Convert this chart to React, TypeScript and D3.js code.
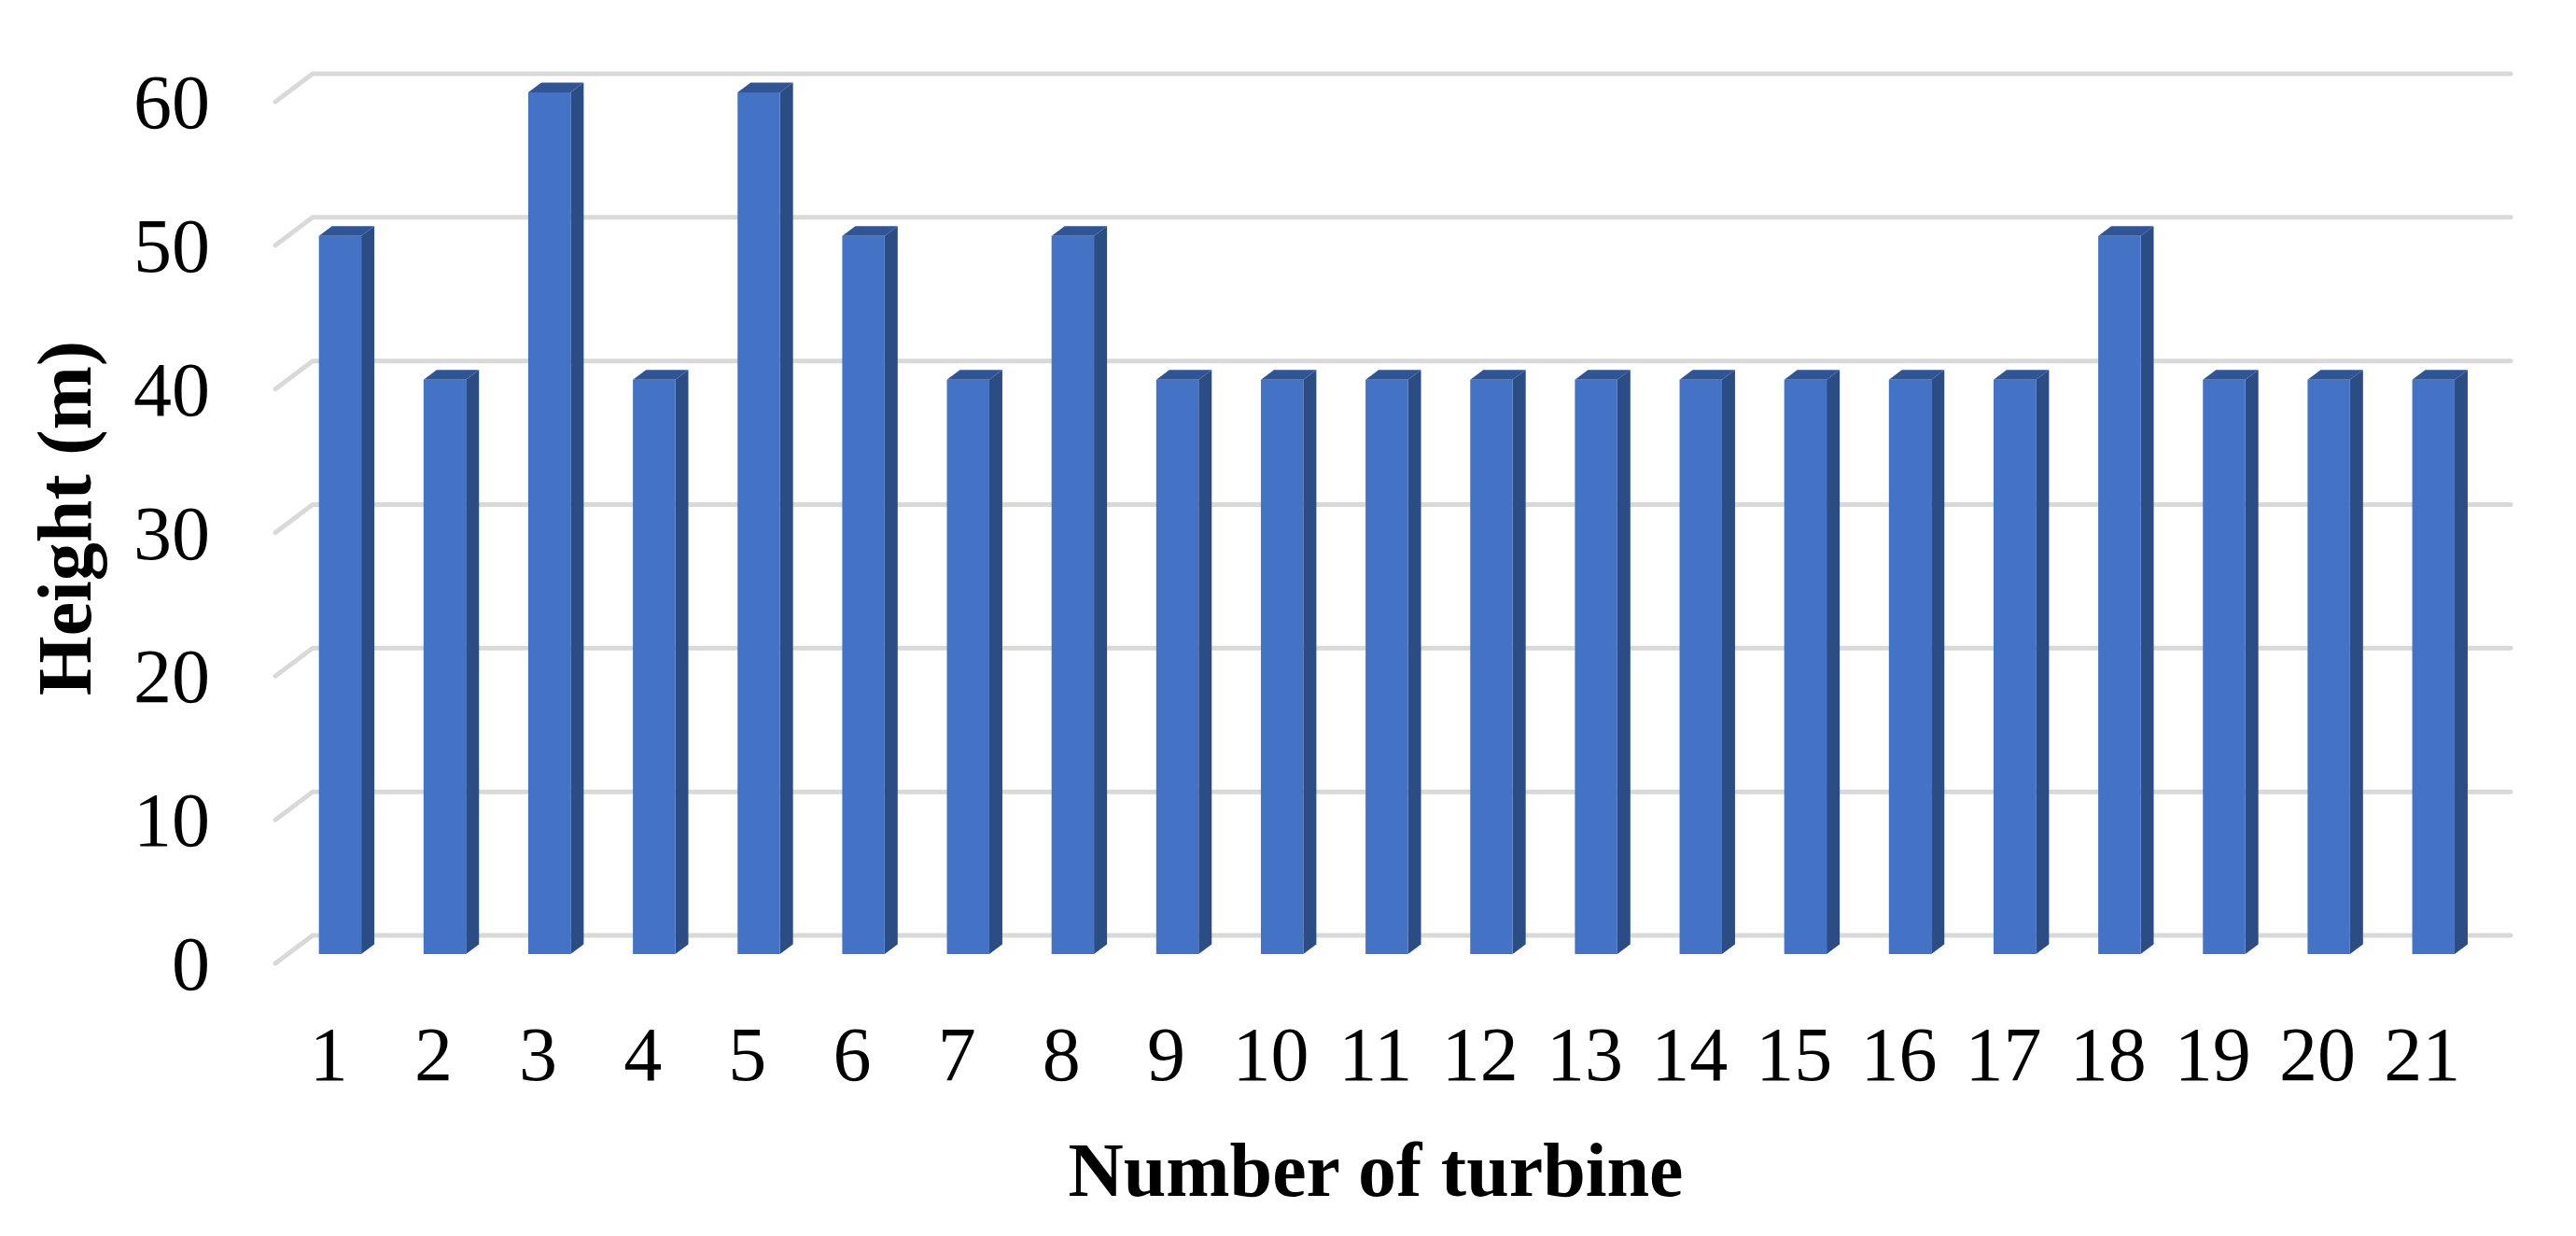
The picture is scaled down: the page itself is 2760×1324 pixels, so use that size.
import React from "react";
import * as d3 from "d3";

const categories = ["1","2","3","4","5","6","7","8","9","10","11","12","13","14","15","16","17","18","19","20","21"];
const heights = [50,40,60,40,60,50,40,50,40,40,40,40,40,40,40,40,40,50,40,40,40];
const yTicks = [0,10,20,30,40,50,60];
const xTitle = "Number of turbine";
const yTitle = "Height (m)";

const W = 2760, H = 1324;
const DX = -40, DY = 30; // depth vector from back wall (d=0) to front (d=1)
const D_FRONT = 0.667, D_BACK = 0.317;
const FONT = "'Liberation Serif', 'Times New Roman', serif";

export default function App() {
  const y = d3.scaleLinear().domain([0, 60]).range([1002, 79]);
  const x = d3.scaleBand<string>().domain(categories).range([335, 2690]);
  const bw = x.bandwidth() * 0.405;

  const p = (px: number, py: number, d: number) => [px + DX * d, py + DY * d];
  const poly = (pts: number[][]) => pts.map(q => q.join(",")).join(" ");

  return (
    <svg width={W} height={H} style={{ position: "absolute", left: 0, top: 0, background: "#fff" }}>
      <rect x={0} y={0} width={W} height={H} fill="#fff" />
      {yTicks.map(t => {
        const yy = y(t);
        const [fx, fy] = p(x.range()[0], yy, 1);
        return (
          <g key={t}>
            <polyline points={poly([[fx, fy], [x.range()[0], yy], [x.range()[1], yy]])}
              fill="none" stroke="#d9d9d9" strokeWidth={5} strokeLinejoin="round" strokeLinecap="round" />
            <text x={225} y={fy + 28} textAnchor="end" fontFamily={FONT} fontSize={82} fill="#000">{t}</text>
          </g>
        );
      })}
      {categories.map((c, i) => {
        const cx = (x(c) as number) + x.bandwidth() / 2;
        const x0 = cx - bw / 2, x1 = cx + bw / 2;
        const yt = y(heights[i]), yb = y(0);
        const fTL = p(x0, yt, D_FRONT), fTR = p(x1, yt, D_FRONT);
        const fBL = p(x0, yb, D_FRONT), fBR = p(x1, yb, D_FRONT);
        const bTL = p(x0, yt, D_BACK), bTR = p(x1, yt, D_BACK);
        const bBR = p(x1, yb, D_BACK);
        return (
          <g key={c}>
            <polygon points={poly([fTR, bTR, bBR, fBR])} fill="#2c4c86" />
            <polygon points={poly([fTL, bTL, bTR, fTR])} fill="#2f5597" />
            <polygon points={poly([fTL, fTR, fBR, fBL])} fill="#4472c4" />
          </g>
        );
      })}
      {categories.map(c => {
        const cx = (x(c) as number) + x.bandwidth() / 2;
        return (
          <text key={c} x={cx + DX * 0.97} y={1157} textAnchor="middle" fontFamily={FONT} fontSize={82} fill="#000">{c}</text>
        );
      })}
      <text x={1474} y={1281} textAnchor="middle" fontFamily={FONT} fontSize={82} fontWeight="bold" fill="#000">{xTitle}</text>
      <text transform={`translate(97,555) rotate(-90)`} textAnchor="middle" fontFamily={FONT} fontSize={82} fontWeight="bold" fill="#000">{yTitle}</text>
    </svg>
  );
}
